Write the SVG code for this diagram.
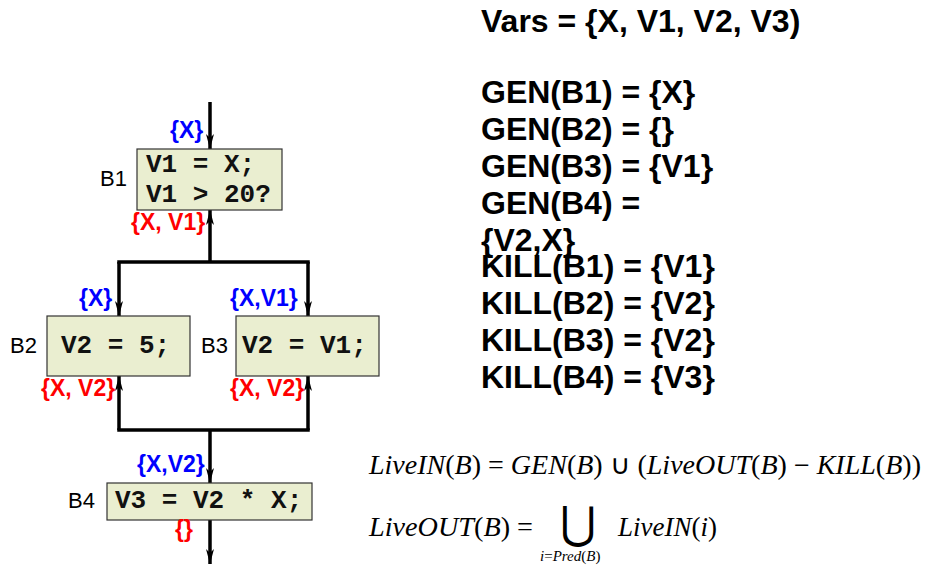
<svg xmlns="http://www.w3.org/2000/svg" width="926" height="566" viewBox="0 0 926 566">
<style>
.box{fill:#EAEED0;stroke:#333;stroke-width:1.2}
.code{font-family:"Liberation Mono","Courier New",monospace;font-weight:bold;font-size:26px;fill:#111}
.lbl{font-family:"Liberation Sans",Arial,sans-serif;font-size:22px;fill:#000}
.set{font-family:"Liberation Sans",Arial,sans-serif;font-weight:bold;font-size:23px}
.blue{fill:#0000FF}
.red{fill:#FF0000}
.big{font-family:"Liberation Sans",Arial,sans-serif;font-weight:bold;font-size:32px;fill:#000}
.eq{font-family:"Liberation Serif","Times New Roman",serif;font-size:27px;fill:#000}
.it{font-style:italic}
.conn{fill:none;stroke:#000;stroke-width:3.5}
</style>
<defs>
<marker id="arr" markerUnits="userSpaceOnUse" markerWidth="16" markerHeight="10" viewBox="0 0 16 10" refX="15" refY="5" orient="auto">
<path d="M0,1 L15,5 L0,9 L4,5 Z" fill="#000"/>
</marker>
</defs>
<g id="connectors">
<path class="conn" d="M210,102 V149" marker-end="url(#arr)"/>
<path class="conn" d="M210,262 V210" marker-end="url(#arr)"/>
<path class="conn" d="M119,262 H308" stroke-linecap="square"/>
<path class="conn" d="M119,262 V316" marker-end="url(#arr)"/>
<path class="conn" d="M308,262 V316" marker-end="url(#arr)"/>
<path class="conn" d="M119,430 V376" marker-end="url(#arr)"/>
<path class="conn" d="M308,430 V376" marker-end="url(#arr)"/>
<path class="conn" d="M119,430 H308" stroke-linecap="square"/>
<path class="conn" d="M210,430 V483" marker-end="url(#arr)"/>
<path class="conn" d="M210,520 V564" marker-end="url(#arr)"/>
</g>
<g id="B1">
<rect class="box" x="137" y="149" width="145" height="61"/>
<text class="code" x="146" y="172">V1 = X;</text>
<text class="code" x="146" y="202">V1 &gt; 20?</text>
<text class="lbl" x="100" y="186">B1</text>
<text class="set blue" x="170" y="138">{X}</text>
<text class="set red" x="131" y="230">{X, V1}</text>
</g>
<g id="B2">
<rect class="box" x="47" y="316" width="143" height="60"/>
<text class="code" x="61" y="353">V2 = 5;</text>
<text class="lbl" x="10" y="353">B2</text>
<text class="set blue" x="79" y="306">{X}</text>
<text class="set red" x="41" y="396">{X, V2}</text>
</g>
<g id="B3">
<rect class="box" x="236" y="316" width="143" height="60"/>
<text class="code" x="242" y="353">V2 = V1;</text>
<text class="lbl" x="201" y="353">B3</text>
<text class="set blue" x="230" y="306">{X,V1}</text>
<text class="set red" x="230" y="396">{X, V2}</text>
</g>
<g id="B4">
<rect class="box" x="107" y="483" width="205" height="37"/>
<text class="code" x="115" y="508">V3 = V2 * X;</text>
<text class="lbl" x="68" y="508">B4</text>
<text class="set blue" x="137" y="472">{X,V2}</text>
<text class="set red" x="175" y="537">{}</text>
</g>
<g id="sets">
<text class="big" x="481" y="32">Vars = {X, V1, V2, V3)</text>
<text class="big" x="481" y="103">GEN(B1) = {X}</text>
<text class="big" x="481" y="140">GEN(B2) = {}</text>
<text class="big" x="481" y="177">GEN(B3) = {V1}</text>
<text class="big" x="481" y="214">GEN(B4) =</text>
<text class="big" x="481" y="251">{V2,X}</text>
<text class="big" x="481" y="277">KILL(B1) = {V1}</text>
<text class="big" x="481" y="314">KILL(B2) = {V2}</text>
<text class="big" x="481" y="351">KILL(B3) = {V2}</text>
<text class="big" x="481" y="388">KILL(B4) = {V3}</text>
</g>
<g id="equations">
<text class="eq" x="369" y="474" textLength="552" lengthAdjust="spacingAndGlyphs"><tspan class="it">LiveIN</tspan>(<tspan class="it">B</tspan>) = <tspan class="it">GEN</tspan>(<tspan class="it">B</tspan>) ∪ (<tspan class="it">LiveOUT</tspan>(<tspan class="it">B</tspan>) − <tspan class="it">KILL</tspan>(<tspan class="it">B</tspan>))</text>
<text class="eq" x="369" y="536" textLength="164" lengthAdjust="spacingAndGlyphs"><tspan class="it">LiveOUT</tspan>(<tspan class="it">B</tspan>) =</text>
<text class="eq" x="560" y="538" style="font-size:44px">⋃</text>
<text class="eq" x="618" y="536"><tspan class="it">LiveIN</tspan>(<tspan class="it">i</tspan>)</text>
<text class="eq" x="540" y="561" style="font-size:15px"><tspan class="it">i</tspan>=<tspan class="it">Pred</tspan>(<tspan class="it">B</tspan>)</text>
</g>
</svg>
